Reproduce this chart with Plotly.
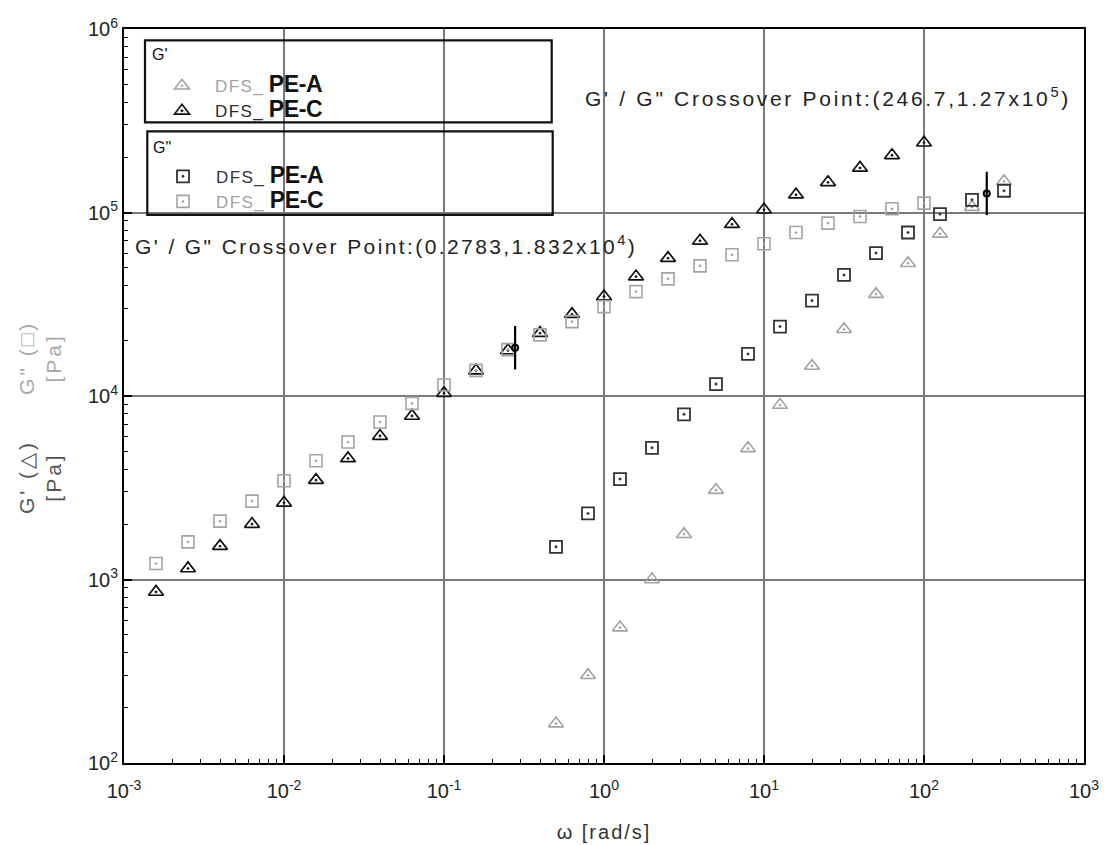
import plotly.graph_objects as go

# ---------------- data ----------------
# PE-C: 5 points per decade, 10^-2.8 ... 10^2.0 rad/s
omega_c = [0.001585, 0.002512, 0.003981, 0.006310, 0.01, 0.01585, 0.02512, 0.03981,
           0.06310, 0.1, 0.1585, 0.2512, 0.3981, 0.6310, 1.0, 1.585, 2.512, 3.981,
           6.310, 10.0, 15.85, 25.12, 39.81, 63.10, 100.0]
gp_c = [855, 1148, 1520, 2004, 2617, 3480, 4570, 6050, 7780, 10350, 13740, 17700,
        21990, 27910, 34820, 44750, 56400, 70100, 86400, 103500, 125000, 146000,
        175000, 205000, 240000]
gpp_c = [1222, 1603, 2080, 2674, 3450, 4437, 5610, 7210, 9120, 11480, 13800, 17900,
         21520, 25430, 30700, 37060, 43500, 51200, 58800, 67500, 77800, 87500,
         95100, 104800, 112500]

# PE-A: 10^-0.3 ... 10^2.5 rad/s
omega_a = [0.5012, 0.7943, 1.259, 1.995, 3.162, 5.012, 7.943, 12.59, 19.95, 31.62,
           50.12, 79.43, 125.9, 199.5, 316.2]
gp_a = [164, 301, 547, 1000, 1766, 3070, 5185, 8930, 14580, 23100, 35900, 52900,
        76500, 107000, 148000]
gpp_a = [1506, 2291, 3527, 5220, 7945, 11620, 16950, 23900, 33100, 45700, 60100,
         77800, 98000, 117300, 131400]

# crossover points
cross_x = [0.2783, 246.7]
cross_y = [18320, 127000]

x_tickvals = [1e-3, 1e-2, 1e-1, 1e0, 1e1, 1e2, 1e3]
x_ticktext = ["10<sup>-3</sup>", "10<sup>-2</sup>", "10<sup>-1</sup>", "10<sup>0</sup>",
              "10<sup>1</sup>", "10<sup>2</sup>", "10<sup>3</sup>"]
y_tickvals = [1e2, 1e3, 1e4, 1e5, 1e6]
y_ticktext = ["10<sup>2</sup>", "10<sup>3</sup>", "10<sup>4</sup>", "10<sup>5</sup>",
              "10<sup>6</sup>"]

# ---------------- style ----------------
FONT = "Liberation Sans, Arial, sans-serif"
DARK = "#2a2a2a"
LIGHT = "#a3a3a3"

# plot-area geometry in pixels (for paper-coordinate placement of decorations)
L, R, T, B = 124, 1084, 29.4, 762.6
W, H = R - L, B - T


def px(x):
    return (x - L) / W


def py(y):
    return (B - y) / H


def entry(prefix_color, sample):
    return ("<span style='color:%s;letter-spacing:1.4px'>DFS_</span> "
            "<b><span style='font-size:23px;letter-spacing:-0.4px'>%s</span></b>" % (prefix_color, sample))


fig = go.Figure()

fig.add_trace(go.Scatter(
    x=omega_a, y=gp_a, mode="markers", name=entry(LIGHT, "PE-A"), legend="legend",
    marker=dict(symbol="triangle-up-open-dot", size=13, color=LIGHT, line=dict(width=1.6, color=LIGHT))))
fig.add_trace(go.Scatter(
    x=omega_c, y=gp_c, mode="markers", name=entry(DARK, "PE-C"), legend="legend",
    marker=dict(symbol="triangle-up-open-dot", size=13, color="#111", line=dict(width=1.7, color="#111"))))
fig.add_trace(go.Scatter(
    x=omega_a, y=gpp_a, mode="markers", name=entry("#333", "PE-A"), legend="legend2",
    marker=dict(symbol="square-open-dot", size=12, color="#333", line=dict(width=1.8, color="#333"))))
fig.add_trace(go.Scatter(
    x=omega_c, y=gpp_c, mode="markers", name=entry(LIGHT, "PE-C"), legend="legend2",
    marker=dict(symbol="square-open-dot", size=12, color=LIGHT, line=dict(width=1.6, color=LIGHT))))

# crossover markers (vertical bar + dot)
fig.add_trace(go.Scatter(
    x=cross_x, y=cross_y, mode="markers", showlegend=False,
    marker=dict(symbol="line-ns-open", size=31, color="black", line=dict(width=2.2, color="black"))))
fig.add_trace(go.Scatter(
    x=cross_x, y=cross_y, mode="markers", showlegend=False,
    marker=dict(symbol="circle-open", size=6, color="black", line=dict(width=2, color="black"))))

axis_common = dict(
    type="log", showline=True, linecolor="black", linewidth=2, mirror=True,
    ticks="inside", ticklen=8, tickwidth=1.5, tickcolor="black",
    showgrid=True, gridcolor="#7a7a7a", gridwidth=1.5, zeroline=False, automargin=False,
    tickfont=dict(family=FONT, size=20, color="#222"),
    minor=dict(ticks="inside", ticklen=4, tickwidth=1.2, tickcolor="black", dtick="D1", showgrid=False),
)

fig.update_xaxes(range=[-3, 3], tickvals=x_tickvals, ticktext=x_ticktext, ticklabelstandoff=9,
                 title=dict(text="<span style='letter-spacing:2px'>ω [rad/s]</span>",
                            font=dict(family=FONT, size=20, color="#333"), standoff=24),
                 **axis_common)
fig.update_yaxes(range=[2, 6], tickvals=y_tickvals, ticktext=y_ticktext, **axis_common)

annotations = [
    dict(text="<span style='letter-spacing:2.7px'>G' / G\" Crossover Point:(246.7,1.27x10<sup>5</sup>)</span>",
         xref="paper", yref="paper", x=px(583), y=py(97),
         xanchor="left", yanchor="middle", showarrow=False,
         font=dict(family=FONT, size=21, color="#222")),
    dict(text="<span style='letter-spacing:2.4px'>G' / G\" Crossover Point:(0.2783,1.832x10<sup>4</sup>)</span>",
         xref="paper", yref="paper", x=px(133), y=py(245),
         xanchor="left", yanchor="middle", showarrow=False,
         font=dict(family=FONT, size=21, color="#222")),
    dict(text="<span style='letter-spacing:3px'>G' (△)<br>[Pa]</span>",
         xref="paper", yref="paper", x=px(40), y=py(477),
         xanchor="center", yanchor="middle", textangle=-90, showarrow=False,
         font=dict(family=FONT, size=21, color="#555")),
    dict(text="<span style='letter-spacing:3px'>G\" (□)<br>[Pa]</span>",
         xref="paper", yref="paper", x=px(40), y=py(358),
         xanchor="center", yanchor="middle", textangle=-90, showarrow=False,
         font=dict(family=FONT, size=21, color="#aaaaaa")),
    # legend group titles
    dict(text="G'", xref="paper", yref="paper", x=px(150), y=py(55),
         xanchor="left", yanchor="middle", showarrow=False,
         font=dict(family=FONT, size=16, color="#111")),
    dict(text="G\"", xref="paper", yref="paper", x=px(151), y=py(148),
         xanchor="left", yanchor="middle", showarrow=False,
         font=dict(family=FONT, size=16, color="#111")),
]

shapes = [
    # white backing behind the legend texts (hides grid lines there, as in the original)
    dict(type="rect", xref="paper", yref="paper",
         x0=px(205), x1=px(338), y0=py(121), y1=py(67),
         line=dict(width=0), fillcolor="white", layer="between"),
    dict(type="rect", xref="paper", yref="paper",
         x0=px(205), x1=px(338), y0=py(214), y1=py(158),
         line=dict(width=0), fillcolor="white", layer="between"),
    # legend frames
    dict(type="rect", xref="paper", yref="paper",
         x0=px(145), x1=px(551.7), y0=py(122.7), y1=py(40.7),
         line=dict(color="#111", width=2.2), fillcolor="rgba(0,0,0,0)", layer="above"),
    dict(type="rect", xref="paper", yref="paper",
         x0=px(147.3), x1=px(552.7), y0=py(215), y1=py(131.7),
         line=dict(color="#111", width=2.2), fillcolor="rgba(0,0,0,0)", layer="above"),
]

legend_common = dict(
    xanchor="left", yanchor="top", bgcolor="rgba(0,0,0,0)", borderwidth=0,
    font=dict(family=FONT, size=17, color="#111"), itemwidth=56,
    tracegroupgap=0, traceorder="normal",
)

fig.update_layout(
    width=1104, height=845,
    margin=dict(l=124, r=20, t=29, b=82),
    paper_bgcolor="white", plot_bgcolor="white",
    font=dict(family=FONT, color="#222"),
    showlegend=True,
    legend=dict(x=px(149), y=py(68.5), **legend_common),
    legend2=dict(x=px(150), y=py(159), **legend_common),
    annotations=annotations,
    shapes=shapes,
)

fig.write_html("out.html")
